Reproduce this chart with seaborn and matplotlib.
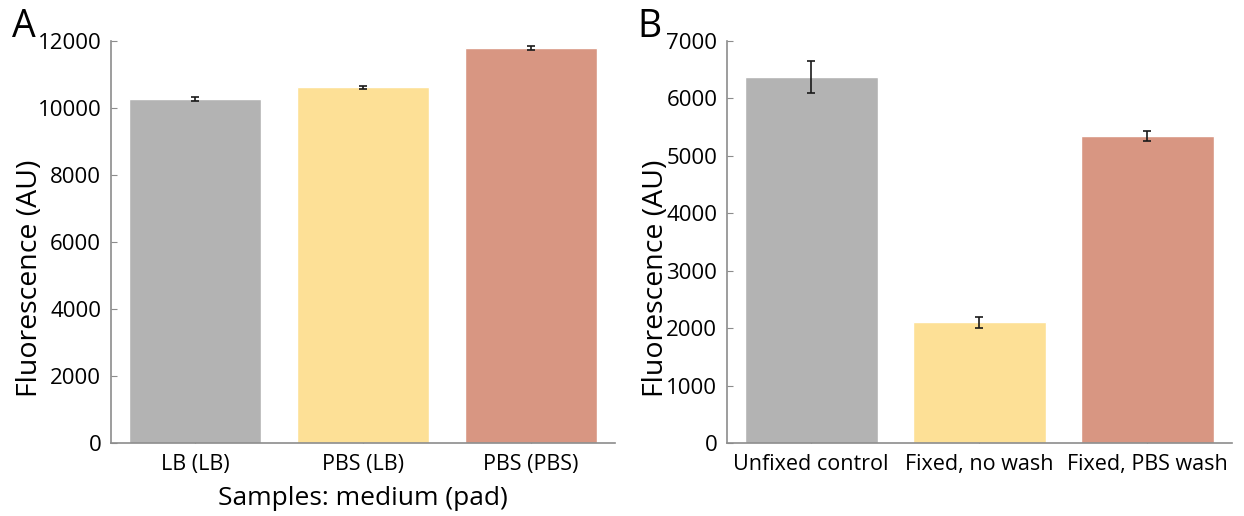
import numpy as np
import pandas as pd
import matplotlib
matplotlib.use("Agg")
import matplotlib.pyplot as plt
import seaborn as sns

# Panel A data
samples_a = ["LB (LB)", "PBS (LB)", "PBS (PBS)"]
fluor_a = [10280, 10620, 11800]
err_a = [60, 50, 60]

# Panel B data
samples_b = ["Unfixed control", "Fixed, no wash", "Fixed, PBS wash"]
fluor_b = [6380, 2100, 5350]
err_b = [280, 100, 85]

colors = ["#b3b3b3", "#fde096", "#d89682"]

sns.set_theme(style="white")
plt.rcParams['font.family'] = ['Open Sans', 'DejaVu Sans']

fig = plt.figure(figsize=(12.44, 5.16), dpi=100)
ax_a = fig.add_axes([0.0892, 0.1415, 0.4052, 0.779])
ax_b = fig.add_axes([0.5844, 0.1415, 0.4056, 0.779])


def draw_panel(ax, cats, vals, errs, ymax, ystep, letter, letter_x, ylab_x):
    df = pd.DataFrame({"sample": cats, "value": vals})
    sns.barplot(data=df, x="sample", y="value", hue="sample", palette=colors,
                order=cats, hue_order=cats, width=0.79, legend=False,
                errorbar=None, saturation=1, ax=ax)
    ax.errorbar(np.arange(len(cats)), vals, yerr=errs, fmt="none",
                ecolor="#1a1a1a", elinewidth=1.2, capsize=3, capthick=1.2)
    ax.set_xlim(-0.5, len(cats) - 0.5)
    ax.set_ylim(0, ymax)
    ax.set_yticks(np.arange(0, ymax + 1, ystep))
    for side in ["top", "right"]:
        ax.spines[side].set_visible(False)
    for side in ["left", "bottom"]:
        ax.spines[side].set_color("#8c8c8c")
        ax.spines[side].set_linewidth(1.2)
    ax.tick_params(axis="both", direction="in", length=4, width=0.8,
                   color="#8c8c8c", labelcolor="#000000",
                   left=True, bottom=True)
    ax.tick_params(axis="y", pad=7, labelsize=16)
    ax.tick_params(axis="x", pad=8, labelsize=15.5)
    ax.set_ylabel("Fluorescence (AU)", fontsize=20.5, color="#000000")
    ax.yaxis.set_label_coords(ylab_x, 0.41)
    ax.set_xlabel("")
    ax.text(letter_x, 1.035, letter, transform=ax.transAxes, fontsize=27,
            va="center", ha="left", color="#000000")


draw_panel(ax_a, samples_a, fluor_a, err_a, 12000, 2000, "A", -0.196, -0.133)
ax_a.set_xlabel("Samples: medium (pad)", fontsize=19, color="#000000", labelpad=8)
draw_panel(ax_b, samples_b, fluor_b, err_b, 7000, 1000, "B", -0.178, -0.113)

fig.savefig("out.png", dpi=100)
